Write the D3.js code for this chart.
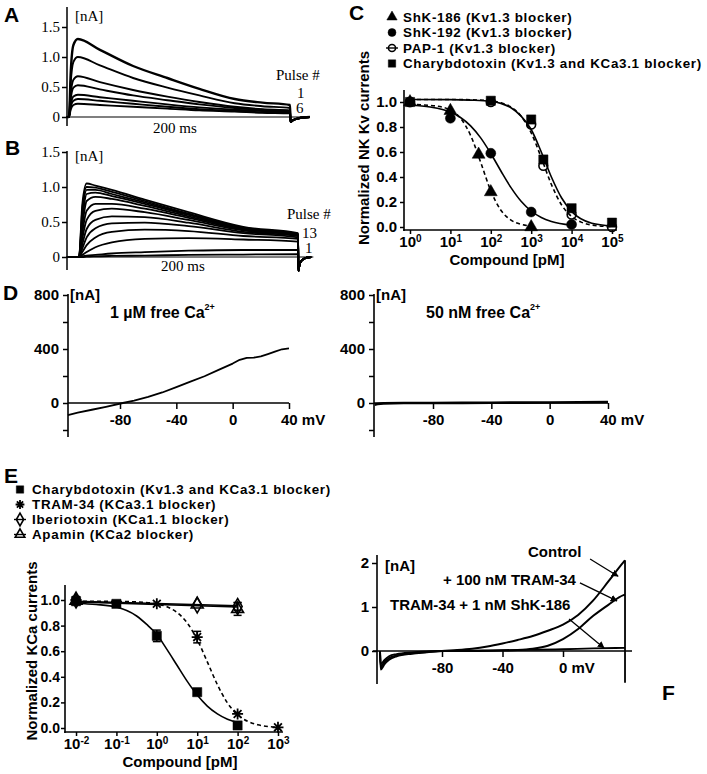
<!DOCTYPE html>
<html><head><meta charset="utf-8"><title>Figure</title>
<script src="https://cdn.jsdelivr.net/npm/d3@7/dist/d3.min.js"></script>
<style>html,body{margin:0;padding:0;background:#fff;} svg{display:block;}</style>
</head><body>
<svg id="fig" width="707" height="774" xmlns="http://www.w3.org/2000/svg"></svg>
<script>
const SANS = "'Liberation Sans', Arial, Helvetica, sans-serif";
const SERIF = "'Liberation Serif', 'Times New Roman', Times, serif";

// ================= DATA =================
// ---- Panel A: Kv current traces (nA) vs time (ms), pulse #1 (largest) ... last
const aTime = [-2, 0, 1.5, 4, 8, 28, 58, 89, 118, 150, 175, 200];
const aTraces = [
  [0, 0, 0.72, 1.20, 1.30, 1.12, 0.85, 0.65, 0.47, 0.30, 0.24, 0.20],
  [0, 0, 0.55, 0.92, 1.00, 0.86, 0.65, 0.49, 0.36, 0.23, 0.18, 0.15],
  [0, 0, 0.37, 0.62, 0.68, 0.58, 0.45, 0.34, 0.25, 0.17, 0.13, 0.11],
  [0, 0, 0.29, 0.49, 0.53, 0.46, 0.36, 0.28, 0.21, 0.15, 0.12, 0.10],
  [0, 0, 0.20, 0.34, 0.37, 0.33, 0.27, 0.21, 0.16, 0.12, 0.10, 0.08],
  [0, 0, 0.16, 0.27, 0.30, 0.27, 0.22, 0.17, 0.13, 0.10, 0.08, 0.07],
  [0, 0, 0.12, 0.20, 0.22, 0.20, 0.17, 0.14, 0.11, 0.09, 0.07, 0.06]
];
const aTailTime = [200.5, 203, 208, 218];
const aTail = [-0.08, -0.05, -0.02, 0];
const aYTicks = [0, 0.5, 1.0, 1.5];
const aYTickLabels = ["0", "0.5", "1.0", "1.5"];

// ---- Panel B: 13 pulses, pulse #1 (smallest) ... #13 (largest)
const bTime = [-11, 0, 3, 7, 15, 30, 60, 100, 150, 200];
const bTraces = [
  [0, 0, 0.00, 0.005, 0.01, 0.015, 0.02, 0.03, 0.035, 0.04],
  [0, 0, 0.01, 0.02, 0.03, 0.05, 0.07, 0.09, 0.10, 0.10],
  [0, 0, 0.03, 0.07, 0.14, 0.21, 0.26, 0.27, 0.25, 0.22],
  [0, 0, 0.07, 0.17, 0.28, 0.36, 0.39, 0.37, 0.30, 0.26],
  [0, 0, 0.12, 0.28, 0.41, 0.48, 0.49, 0.44, 0.34, 0.28],
  [0, 0, 0.18, 0.40, 0.53, 0.58, 0.57, 0.49, 0.36, 0.30],
  [0, 0, 0.26, 0.53, 0.66, 0.69, 0.64, 0.53, 0.38, 0.31],
  [0, 0, 0.34, 0.66, 0.76, 0.76, 0.69, 0.56, 0.39, 0.31],
  [0, 0, 0.43, 0.80, 0.86, 0.83, 0.73, 0.58, 0.40, 0.32],
  [0, 0, 0.52, 0.90, 0.92, 0.87, 0.76, 0.60, 0.41, 0.32],
  [0, 0, 0.60, 0.96, 0.96, 0.90, 0.78, 0.61, 0.41, 0.33],
  [0, 0, 0.68, 1.00, 0.99, 0.93, 0.80, 0.62, 0.42, 0.33],
  [0, 0, 0.75, 1.05, 1.02, 0.96, 0.82, 0.64, 0.43, 0.34]
];
const bTailTime = [200.4, 201.5, 204, 208, 212];
const bTail = [-0.2, -0.1, -0.04, -0.01, 0];
const bYTicks = [0, 0.5, 1.0, 1.5];
const bYTickLabels = ["0", "0.5", "1.0", "1.5"];

// ---- Panel C: NK Kv currents vs compound [pM]
const cLegend = ["ShK-186 (Kv1.3 blocker)", "ShK-192 (Kv1.3 blocker)", "PAP-1 (Kv1.3 blocker)", "Charybdotoxin (Kv1.3 and KCa3.1 blocker)"];
const cSymbols = ["triFill", "circFill", "circOpen", "sqFill"];
const cXTicks = [1, 10, 100, 1000, 10000, 100000];
const cXTickExp = ["0", "1", "2", "3", "4", "5"];
const cYTicks = [0, 0.2, 0.4, 0.6, 0.8, 1.0];
const shk186Conc = [1, 10, 50, 100, 1000];
const shk186Val = [1.0, 0.93, 0.58, 0.28, 0.0];
const shk192Conc = [1, 10, 100, 1000, 10000];
const shk192Val = [1.0, 0.87, 0.59, 0.12, 0.02];
const pap1Conc = [1, 100, 1000, 2000, 10000, 100000];
const pap1Val = [1.0, 1.0, 0.82, 0.49, 0.10, 0.0];
const ctxCConc = [1, 100, 1000, 2000, 10000, 100000];
const ctxCVal = [1.0, 1.01, 0.86, 0.54, 0.15, 0.035];
// fitted curves (log10 concentration, value)
const shk186FitLog = [0, 0.5, 1, 1.25, 1.5, 1.75, 2, 2.25, 2.5, 2.75, 3];
const shk186FitVal = [0.98, 0.973, 0.936, 0.87, 0.733, 0.517, 0.29, 0.134, 0.055, 0.021, 0.008];
const shk192FitLog = [0, 0.5, 1, 1.25, 1.5, 1.75, 2, 2.25, 2.5, 2.75, 3, 3.25, 3.5, 4];
const shk192FitVal = [0.974, 0.96, 0.919, 0.876, 0.809, 0.713, 0.588, 0.448, 0.315, 0.206, 0.128, 0.076, 0.044, 0.015];
const pap1FitLog = [0, 1, 1.5, 2, 2.25, 2.5, 2.75, 3, 3.25, 3.5, 3.75, 4, 4.25, 4.5, 5];
const pap1FitVal = [1.02, 1.02, 1.018, 1.009, 0.994, 0.96, 0.887, 0.753, 0.554, 0.34, 0.178, 0.084, 0.037, 0.016, 0.003];
const ctxCFitLog = [0, 1, 1.5, 2, 2.25, 2.5, 2.75, 3, 3.25, 3.5, 3.75, 4, 4.5, 5];
const ctxCFitVal = [1.02, 1.019, 1.015, 1.005, 0.989, 0.954, 0.887, 0.78, 0.6, 0.40, 0.234, 0.125, 0.03, 0.008];

// ---- Panel D: I-V ramps (nA vs mV)
const dYTicks = [-200, 0, 200, 400, 600, 800];
const dYTickLabels = ["", "0", "", "400", "", "800"];
const dXTicks = [-80, -40, 0, 40];
const dXTickLabels = ["-80", "-40", "0", "40 mV"];
const dLeftVolt = [-117, -110, -100, -90, -78, -70, -60, -50, -40, -30, -20, -10, 0, 5, 10, 15, 20, 25, 30, 35, 40];
const dLeftCur = [-90, -72, -50, -28, 0, 18, 45, 78, 118, 158, 198, 245, 292, 320, 335, 336, 345, 362, 380, 398, 405];
const dRightVolt = [-120, -118, -114, -100, -80, -60, -40, -20, 0, 20, 40];
const dRightCur = [-12, -8, -3, 0, 0, 1, 2, 3, 4, 6, 7];

// ---- Panel E: KCa currents vs compound [pM]
const eLegend = ["Charybdotoxin (Kv1.3 and KCa3.1 blocker)", "TRAM-34 (KCa3.1 blocker)", "Iberiotoxin (KCa1.1 blocker)", "Apamin (KCa2 blocker)"];
const eSymbols = ["sqFill", "star", "diaOpen", "triOpen"];
const eXTicks = [0.01, 0.1, 1, 10, 100, 1000];
const eXTickExp = ["-2", "-1", "0", "1", "2", "3"];
const eYTicks = [0, 0.2, 0.4, 0.6, 0.8, 1.0];
const ctxEConc = [0.01, 0.1, 1, 10, 100];
const ctxEVal = [0.99, 0.97, 0.72, 0.28, 0.02];
const ctxEErr = [0, 0, 0.045, 0, 0];
const tramConc = [0.01, 1, 10, 100, 1000];
const tramVal = [1.0, 0.97, 0.71, 0.11, 0.005];
const tramErr = [0, 0, 0.045, 0, 0];
const iberioConc = [0.01, 10, 100];
const iberioVal = [1.0, 0.96, 0.95];
const iberioErr = [0, 0, 0.03];
const apaminConc = [0.01, 10, 100];
const apaminVal = [0.995, 0.965, 0.93];
const apaminErr = [0, 0, 0.05];
const ctxEFitLog = [-2, -1.5, -1, -0.5, -0.25, 0, 0.25, 0.5, 0.75, 1, 1.25, 1.5, 1.75, 2];
const ctxEFitVal = [0.975, 0.965, 0.945, 0.875, 0.809, 0.73, 0.614, 0.49, 0.366, 0.257, 0.171, 0.11, 0.068, 0.042];
const tramFitLog = [-2, -1, -0.5, 0, 0.25, 0.5, 0.75, 1, 1.25, 1.5, 1.75, 2, 2.25, 2.5, 2.75, 3];
const tramFitVal = [0.99, 0.989, 0.985, 0.969, 0.947, 0.903, 0.822, 0.691, 0.517, 0.338, 0.195, 0.103, 0.052, 0.025, 0.012, 0.006];
const iberioFitLog = [-2, 2];
const iberioFitVal = [0.99, 0.955];
const apaminFitLog = [-2, 2];
const apaminFitVal = [0.985, 0.945];

// ---- Panel F: I-V ramps (nA vs mV)
const fYTicks = [0, 1, 2];
const fXTicks = [-80, -40, 0];
const fXTickLabels = ["-80", "-40", "0 mV"];
const fStartVolt = [-121, -120.5, -118, -115, -110, -100, -90];
const fControlVolt = [-80, -70, -60, -50, -40, -30, -20, -10, 0, 10, 20, 30, 40, 41];
const fControlCur = [0.0, 0.02, 0.05, 0.1, 0.17, 0.25, 0.34, 0.46, 0.6, 0.82, 1.15, 1.58, 2.02, 2.06];
const fControlStart = [0, -0.42, -0.3, -0.2, -0.12, -0.06, -0.03];
const fTramVolt = [-80, -60, -40, -30, -20, -10, 0, 10, 20, 30, 40, 41];
const fTramCur = [0.0, 0.0, 0.01, 0.02, 0.05, 0.12, 0.27, 0.5, 0.8, 1.05, 1.27, 1.28];
const fTramStart = [0, -0.35, -0.25, -0.16, -0.1, -0.05, -0.02];
const fShkVolt = [-80, -40, 0, 20, 41];
const fShkCur = [0.0, 0.02, 0.04, 0.06, 0.07];
const fShkStart = [0, -0.3, -0.2, -0.12, -0.07, -0.03, -0.01];
const fEndVolt = [41, 41];
const fEndCur = [2.06, -0.72];
const fLabels = ["Control", "+ 100 nM TRAM-34", "TRAM-34 + 1 nM ShK-186"];
// annotation arrows (from -> to), in data units (mV, nA)
const fArrowFrom = [[17.9, 2.09], [11.2, 1.55], [4.0, 0.73]];
const fArrowTo = [[36.4, 1.70], [35.7, 1.14], [27.1, 0.07]];

// ================= HELPERS =================
const svg = d3.select("#fig");
svg.append("rect").attr("width", 707).attr("height", 774).attr("fill", "#fff");
const defs = svg.append("defs");
defs.append("marker").attr("id", "arrow").attr("viewBox", "0 0 10 10").attr("refX", 9).attr("refY", 5)
  .attr("markerWidth", 7).attr("markerHeight", 7).attr("markerUnits", "userSpaceOnUse").attr("orient", "auto")
  .append("path").attr("d", "M0,0L10,5L0,10z").attr("fill", "#000");

function txt(g, s, x, y, o = {}) {
  return g.append("text").attr("x", x).attr("y", y)
    .attr("font-family", o.font || SANS).attr("font-size", o.size || 15)
    .attr("font-weight", o.weight || "bold").attr("text-anchor", o.anchor || "start")
    .attr("letter-spacing", o.ls || null)
    .attr("fill", "#000").text(s);
}
function seg(g, x1, y1, x2, y2, w) {
  g.append("line").attr("x1", x1).attr("y1", y1).attr("x2", x2).attr("y2", y2)
    .attr("stroke", "#000").attr("stroke-width", w || 1.5);
}
function styleAxis(g, font, size, weight) {
  g.attr("font-family", font).attr("font-size", size).attr("font-weight", weight);
  g.select(".domain").remove();
  g.selectAll(".tick line").attr("stroke", "#000").attr("stroke-width", 1.5);
  g.selectAll(".tick text").attr("fill", "#000");
}
function trace(g, pts, xS, yS, w, dash, curve) {
  g.append("path").datum(pts)
    .attr("d", d3.line().x(d => xS(d[0])).y(d => yS(d[1])).curve(curve || d3.curveMonotoneX))
    .attr("fill", "none").attr("stroke", "#000").attr("stroke-width", w || 1.5)
    .attr("stroke-linejoin", "round").attr("stroke-dasharray", dash || null);
}
const SYM = {
  triFill: { type: d3.symbolTriangle, size: 72, fill: true },
  circFill: { type: d3.symbolCircle, size: 78, fill: true },
  circOpen: { type: d3.symbolCircle, size: 62, fill: false },
  sqFill: { type: d3.symbolSquare, size: 85, fill: true },
  diaOpen: { type: d3.symbolDiamond, size: 72, fill: false },
  triOpen: { type: d3.symbolTriangle, size: 62, fill: false }
};
function drawSym(g, kind, x, y, scale = 1) {
  if (kind === "star") {
    const r = 5.5 * scale;
    let d = "";
    for (let k = 0; k < 4; k++) {
      const a = k * Math.PI / 4;
      d += `M${x - r * Math.cos(a)},${y - r * Math.sin(a)}L${x + r * Math.cos(a)},${y + r * Math.sin(a)}`;
    }
    g.append("path").attr("d", d).attr("stroke", "#000").attr("stroke-width", 1.8).attr("fill", "none");
    return;
  }
  const s = SYM[kind];
  g.append("path").attr("d", d3.symbol().type(s.type).size(s.size * scale * scale)())
    .attr("transform", `translate(${x},${y})`)
    .attr("fill", s.fill ? "#000" : "none").attr("stroke", "#000")
    .attr("stroke-width", s.fill ? 0.5 : 1.6);
}
function supTicks(g, exps) {
  g.selectAll(".tick text").each(function (d, i) {
    const t = d3.select(this);
    t.text(null);
    t.append("tspan").text("10");
    t.append("tspan").attr("dy", "-0.45em").attr("font-size", 10).text(exps[i]);
  });
}
function panelLetter(s, x, y) { txt(svg, s, x, y, { size: 21 }); }
const LEG_FONT = 13.4, LEG_LS = 0.7;

// ================= PANEL A =================
{
  const g = svg.append("g");
  const x = d3.scaleLinear().domain([0, 200]).range([69, 290]);
  const y = d3.scaleLinear().domain([0, 1.5]).range([117, 27]);
  g.append("g").attr("transform", "translate(67,0)")
    .call(d3.axisLeft(y).tickValues(aYTicks).tickFormat((d, i) => aYTickLabels[i]).tickSize(5).tickPadding(2))
    .call(a => styleAxis(a, SERIF, 15, "normal"));
  seg(g, 67, 7, 67, 126, 1.5);
  seg(g, 67, y(0), x(218), y(0), 1.2);
  aTraces.forEach((tr, k) => {
    const pts = d3.zip(aTime, tr).concat(d3.zip(aTailTime, aTail));
    trace(g, pts, x, y, k === 0 ? 2.4 : 1.9);
  });
  txt(g, "[nA]", 75, 21, { font: SERIF, weight: "normal" });
  txt(g, "200 ms", 175, 133, { font: SERIF, weight: "normal", anchor: "middle" });
  txt(g, "Pulse #", 276, 80, { font: SERIF, weight: "normal" });
  txt(g, "1", 297, 98, { font: SERIF, weight: "normal" });
  txt(g, "6", 296, 113, { font: SERIF, weight: "normal" });
  panelLetter("A", 4, 22);
}

// ================= PANEL B =================
{
  const g = svg.append("g");
  const x = d3.scaleLinear().domain([0, 200]).range([79, 298]);
  const y = d3.scaleLinear().domain([0, 1.5]).range([257, 152]);
  g.append("g").attr("transform", "translate(67,0)")
    .call(d3.axisLeft(y).tickValues(bYTicks).tickFormat((d, i) => bYTickLabels[i]).tickSize(5).tickPadding(2))
    .call(a => styleAxis(a, SERIF, 15, "normal"));
  seg(g, 67, 151, 67, 270, 1.5);
  seg(g, 67, y(0), x(214), y(0), 1.2);
  bTraces.forEach(tr => {
    const pts = d3.zip(bTime, tr).concat(d3.zip(bTailTime, bTail));
    trace(g, pts, x, y, 1.8);
  });
  txt(g, "[nA]", 75, 161, { font: SERIF, weight: "normal" });
  txt(g, "200 ms", 183, 271, { font: SERIF, weight: "normal", anchor: "middle" });
  txt(g, "Pulse #", 287, 219, { font: SERIF, weight: "normal" });
  txt(g, "13", 302, 238, { font: SERIF, weight: "normal" });
  txt(g, "1", 305, 253, { font: SERIF, weight: "normal" });
  panelLetter("B", 5, 155);
}

// ================= PANEL C =================
{
  const g = svg.append("g");
  const x = d3.scaleLog().domain([Math.pow(10, -0.1485), Math.pow(10, 5.124)]).range([404, 617]);
  const y = d3.scaleLinear().domain([0, 1]).range([227, 102]);
  g.append("g").attr("transform", "translate(404,0)")
    .call(d3.axisLeft(y).tickValues(cYTicks).tickFormat(d3.format(".1f")).tickSize(4).tickPadding(3))
    .call(a => styleAxis(a, SANS, 15, "bold"));
  g.append("g").attr("transform", "translate(0,230)")
    .call(d3.axisBottom(x).tickValues(cXTicks).tickSize(4).tickPadding(2))
    .call(a => styleAxis(a, SANS, 15, "bold"))
    .call(a => supTicks(a, cXTickExp));
  seg(g, 404, 90, 404, 231, 1.6);
  seg(g, 403.2, 230, 617, 230, 1.6);
  const curve = (L, V, dash) => trace(g, d3.zip(L, V).map(d => [Math.pow(10, d[0]), d[1]]), x, y, 1.6, dash);
  curve(shk186FitLog, shk186FitVal, "4,3");
  curve(shk192FitLog, shk192FitVal, null);
  curve(pap1FitLog, pap1FitVal, "4,3");
  curve(ctxCFitLog, ctxCFitVal, null);
  d3.zip(pap1Conc, pap1Val).forEach(d => drawSym(g, "circOpen", x(d[0]), y(d[1])));
  d3.zip(ctxCConc, ctxCVal).forEach(d => drawSym(g, "sqFill", x(d[0]), y(d[1])));
  d3.zip(shk192Conc, shk192Val).forEach(d => drawSym(g, "circFill", x(d[0]), y(d[1])));
  d3.zip(shk186Conc, shk186Val).forEach(d => drawSym(g, "triFill", x(d[0]), y(d[1])));
  txt(g, "Compound [pM]", 507, 265, { anchor: "middle" });
  txt(g, "Normalized NK Kv currents", 0, 0, { anchor: "middle" })
    .attr("transform", "translate(369,148) rotate(-90)");
  // legend
  const rows = [17, 32.5, 48, 63.5];
  cLegend.forEach((s, i) => {
    if (cSymbols[i] === "circOpen") seg(g, 386, rows[i], 398, rows[i], 1.4);
    drawSym(g, cSymbols[i], 392, rows[i], 0.8);
    txt(g, s, 403, rows[i] + 4.7, { size: LEG_FONT, ls: LEG_LS });
  });
  panelLetter("C", 349, 20);
}

// ================= PANEL D =================
function ivPanel(axisX, xRange, volt, cur, width, title, titleX) {
  const g = svg.append("g");
  const x = d3.scaleLinear().domain([-80, 40]).range(xRange);
  const y = d3.scaleLinear().domain([0, 400]).range([403, 349]);
  g.append("g").attr("transform", `translate(${axisX},0)`)
    .call(d3.axisLeft(y).tickValues(dYTicks).tickFormat((d, i) => dYTickLabels[i]).tickSize(5).tickPadding(4))
    .call(a => styleAxis(a, SANS, 15, "bold"));
  seg(g, axisX, 294, axisX, 437, 1.6);
  g.append("g").attr("transform", `translate(0,${y(0)})`)
    .call(d3.axisBottom(x).tickValues(dXTicks).tickFormat((d, i) => dXTickLabels[i]).tickSize(6).tickPadding(5))
    .call(a => styleAxis(a, SANS, 15, "bold"))
    .call(a => a.selectAll(".tick text").filter((d, i) => i === dXTicks.length - 1)
      .attr("text-anchor", "start").attr("x", -8.5));
  seg(g, axisX, y(0), x(40), y(0), 1.6);
  trace(g, d3.zip(volt, cur), x, y, width, null, d3.curveLinear);
  txt(g, "[nA]", axisX + 2, 300, { size: 15 });
  const t = txt(g, title, titleX, 318, { size: 16 });
  t.append("tspan").attr("dy", -8).attr("font-size", 9).text("2+");
}
ivPanel(68, [120, 289], dLeftVolt, dLeftCur, 1.8, "1 µM free Ca", 110);
ivPanel(374, [433, 608], dRightVolt, dRightCur, 2.6, "50 nM free Ca", 426);
panelLetter("D", 3, 300);

// ================= PANEL E =================
{
  const g = svg.append("g");
  const x = d3.scaleLog().domain([Math.pow(10, -2 - 11 / 40.3), Math.pow(10, 3 + 5 / 40.3)]).range([65, 283]);
  const y = d3.scaleLinear().domain([0, 1]).range([728, 600]);
  g.append("g").attr("transform", "translate(65,0)")
    .call(d3.axisLeft(y).tickValues(eYTicks).tickFormat(d3.format(".1f")).tickSize(4).tickPadding(1))
    .call(a => styleAxis(a, SANS, 14, "bold"));
  g.append("g").attr("transform", "translate(0,732)")
    .call(d3.axisBottom(x).tickValues(eXTicks).tickSize(4).tickPadding(2))
    .call(a => styleAxis(a, SANS, 15, "bold"))
    .call(a => supTicks(a, eXTickExp));
  seg(g, 65, 585, 65, 733, 1.6);
  seg(g, 64.2, 732, 283, 732, 1.6);
  const curve = (L, V, dash) => trace(g, d3.zip(L, V).map(d => [Math.pow(10, d[0]), d[1]]), x, y, 1.6, dash);
  curve(tramFitLog, tramFitVal, "4,3");
  curve(ctxEFitLog, ctxEFitVal, null);
  curve(iberioFitLog, iberioFitVal, null);
  curve(apaminFitLog, apaminFitVal, null);
  const errBars = (C, V, E) => C.forEach((c, i) => {
    if (!E[i]) return;
    const cx = x(c), y1 = y(V[i] + E[i]), y2 = y(V[i] - E[i]);
    seg(g, cx, y1, cx, y2, 1.5); seg(g, cx - 4, y1, cx + 4, y1, 1.5); seg(g, cx - 4, y2, cx + 4, y2, 1.5);
  });
  errBars(ctxEConc, ctxEVal, ctxEErr);
  errBars(tramConc, tramVal, tramErr);
  errBars(iberioConc, iberioVal, iberioErr);
  errBars(apaminConc, apaminVal, apaminErr);
  d3.zip(apaminConc, apaminVal).forEach(d => drawSym(g, "triOpen", x(d[0]), y(d[1])));
  d3.zip(iberioConc, iberioVal).forEach(d => drawSym(g, "diaOpen", x(d[0]), y(d[1])));
  d3.zip(tramConc, tramVal).forEach(d => drawSym(g, "star", x(d[0]), y(d[1])));
  d3.zip(ctxEConc, ctxEVal).forEach(d => drawSym(g, "sqFill", x(d[0]), y(d[1])));
  txt(g, "Compound [pM]", 180, 767, { anchor: "middle" });
  txt(g, "Normalized KCa currents", 0, 0, { anchor: "middle" })
    .attr("transform", "translate(37,651) rotate(-90)");
  const rows = [489.5, 504.5, 519.5, 534.5];
  eLegend.forEach((s, i) => {
    if (eSymbols[i] === "diaOpen" || eSymbols[i] === "triOpen") seg(g, 14, rows[i], 26, rows[i], 1.4);
    drawSym(g, eSymbols[i], 20, rows[i], 0.8);
    txt(g, s, 32, rows[i] + 4.7, { size: LEG_FONT, ls: LEG_LS });
  });
  panelLetter("E", 4, 483);
}

// ================= PANEL F =================
{
  const g = svg.append("g");
  const x = d3.scaleLinear().domain([-80, 0]).range([442, 563]);
  const y = d3.scaleLinear().domain([0, 1]).range([651, 607]);
  g.append("g").attr("transform", "translate(377,0)")
    .call(d3.axisLeft(y).tickValues(fYTicks).tickFormat(d3.format("d")).tickSize(5).tickPadding(3))
    .call(a => styleAxis(a, SANS, 15, "bold"));
  seg(g, 377, 555, 377, 684, 1.6);
  g.append("g").attr("transform", `translate(0,${y(0)})`)
    .call(d3.axisBottom(x).tickValues(fXTicks).tickFormat((d, i) => fXTickLabels[i]).tickSize(6).tickPadding(5))
    .call(a => styleAxis(a, SANS, 15, "bold"))
    .call(a => a.selectAll(".tick text").filter((d, i) => i === fXTicks.length - 1)
      .attr("text-anchor", "start").attr("x", -4.5));
  seg(g, 373, y(0), 632, y(0), 1.6);
  trace(g, d3.zip(fStartVolt, fShkStart).concat(d3.zip(fShkVolt, fShkCur)), x, y, 1.8);
  trace(g, d3.zip(fStartVolt, fTramStart).concat(d3.zip(fTramVolt, fTramCur)), x, y, 2.0);
  trace(g, d3.zip(fStartVolt, fControlStart).concat(d3.zip(fControlVolt, fControlCur)), x, y, 2.0);
  trace(g, d3.zip(fEndVolt, fEndCur), x, y, 1.8, null, d3.curveLinear);
  txt(g, "[nA]", 385, 571);
  txt(g, fLabels[0], 528, 557);
  txt(g, fLabels[1], 443, 585);
  txt(g, fLabels[2], 390, 610);
  fArrowFrom.forEach((f, i) => {
    g.append("line").attr("x1", x(f[0])).attr("y1", y(f[1]))
      .attr("x2", x(fArrowTo[i][0])).attr("y2", y(fArrowTo[i][1]))
      .attr("stroke", "#000").attr("stroke-width", 1.3).attr("marker-end", "url(#arrow)");
  });
  panelLetter("F", 662, 700);
}
</script></body></html>
